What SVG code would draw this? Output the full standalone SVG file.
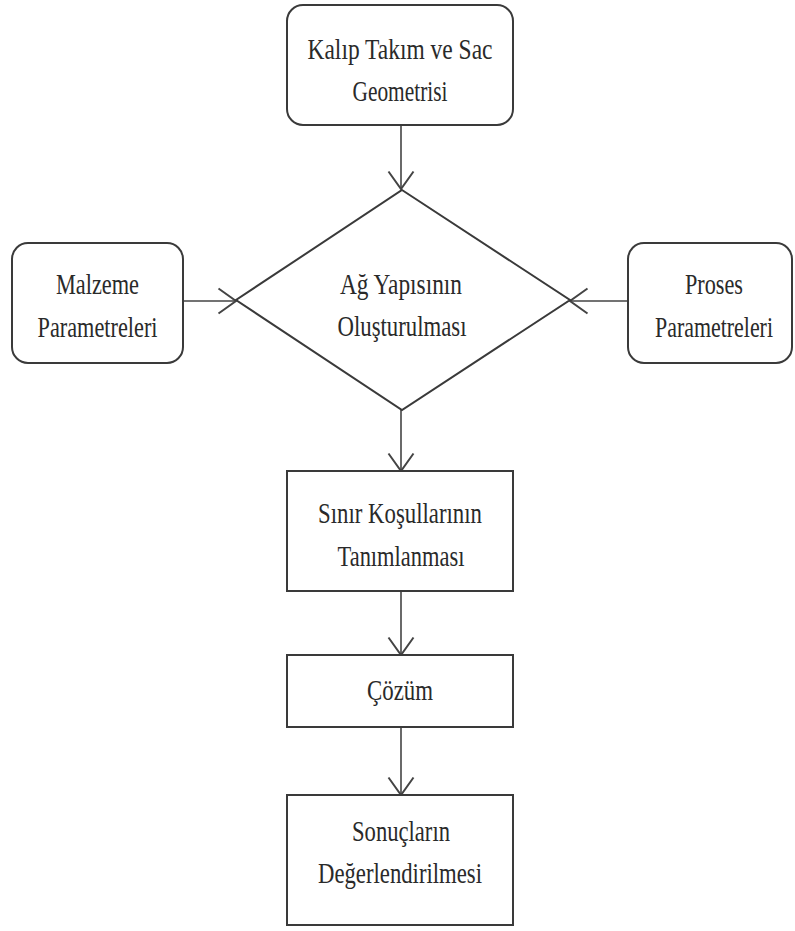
<svg xmlns="http://www.w3.org/2000/svg" width="795" height="931" viewBox="0 0 795 931">
<style>
.box{fill:#fff;stroke:#3a3a3a;stroke-width:2}
.lbl{font-family:"Liberation Serif","Times New Roman",serif;font-size:30px;fill:#2a2a2a;text-anchor:middle}
.conn{stroke:#444;stroke-width:1.6;fill:none;marker-end:url(#arr)}
</style>
<defs>
<marker id="arr" markerUnits="userSpaceOnUse" markerWidth="30" markerHeight="30" viewBox="-16 -12 18 24" refX="0" refY="0" orient="auto">
<path d="M-14,-10 L0,0 L-14,10" fill="none" stroke="#444" stroke-width="1.6"/>
</marker>
</defs>
<rect width="795" height="931" fill="#fff"/>
<g id="connectors">
<line class="conn" x1="401" y1="125" x2="401" y2="189"/>
<line class="conn" x1="183" y1="301" x2="236" y2="301"/>
<line class="conn" x1="628" y1="301" x2="570" y2="301"/>
<line class="conn" x1="401" y1="410" x2="401" y2="471"/>
<line class="conn" x1="401" y1="591" x2="401" y2="655"/>
<line class="conn" x1="401" y1="727" x2="401" y2="795"/>
</g>
<g id="node-geometri">
<rect class="box" x="287" y="5" width="226" height="120" rx="16"/>
<text class="lbl" x="400" y="59" textLength="185" lengthAdjust="spacingAndGlyphs">Kalıp Takım ve Sac</text>
<text class="lbl" x="400" y="101" textLength="95" lengthAdjust="spacingAndGlyphs">Geometrisi</text>
</g>
<g id="node-malzeme">
<rect class="box" x="12" y="243" width="171" height="120" rx="16"/>
<text class="lbl" x="97.5" y="294" textLength="83" lengthAdjust="spacingAndGlyphs">Malzeme</text>
<text class="lbl" x="97.5" y="337" textLength="120" lengthAdjust="spacingAndGlyphs">Parametreleri</text>
</g>
<g id="node-proses">
<rect class="box" x="628" y="243" width="164" height="120" rx="16"/>
<text class="lbl" x="714" y="294" textLength="58" lengthAdjust="spacingAndGlyphs">Proses</text>
<text class="lbl" x="714" y="337" textLength="118" lengthAdjust="spacingAndGlyphs">Parametreleri</text>
</g>
<g id="node-ag">
<polygon class="box" points="402,190 570,300 402,410 236,300"/>
<text class="lbl" x="401" y="294" textLength="122" lengthAdjust="spacingAndGlyphs">Ağ Yapısının</text>
<text class="lbl" x="402" y="336" textLength="129" lengthAdjust="spacingAndGlyphs">Oluşturulması</text>
</g>
<g id="node-sinir">
<rect class="box" x="287" y="471" width="226" height="120"/>
<text class="lbl" x="400" y="523" textLength="164" lengthAdjust="spacingAndGlyphs">Sınır Koşullarının</text>
<text class="lbl" x="401" y="566" textLength="127" lengthAdjust="spacingAndGlyphs">Tanımlanması</text>
</g>
<g id="node-cozum">
<rect class="box" x="287" y="655" width="226" height="72"/>
<text class="lbl" x="400" y="700" textLength="66" lengthAdjust="spacingAndGlyphs">Çözüm</text>
</g>
<g id="node-sonuc">
<rect class="box" x="287" y="795" width="226" height="130"/>
<text class="lbl" x="401" y="841" textLength="98" lengthAdjust="spacingAndGlyphs">Sonuçların</text>
<text class="lbl" x="400" y="883" textLength="164" lengthAdjust="spacingAndGlyphs">Değerlendirilmesi</text>
</g>
</svg>
